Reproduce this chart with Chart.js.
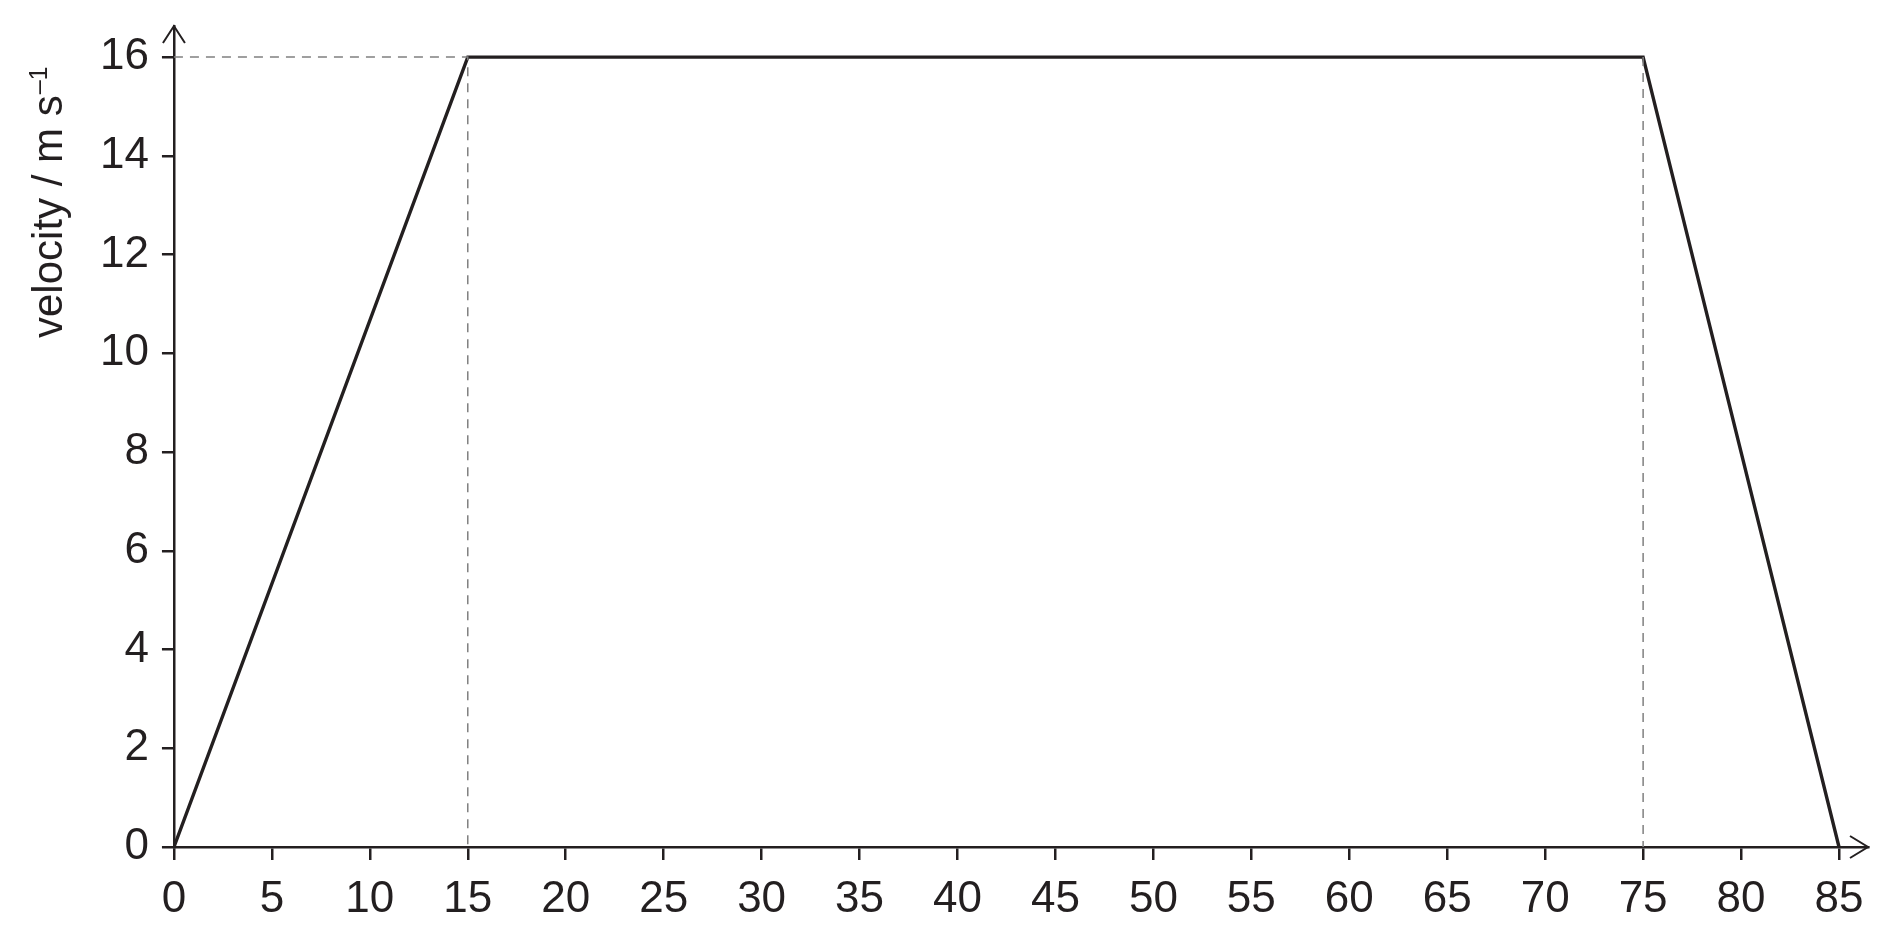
<!DOCTYPE html>
<html>
<head>
<meta charset="utf-8">
<script src="https://cdn.jsdelivr.net/npm/chart.js@4/dist/chart.umd.min.js"></script>
<style>
  html, body { margin: 0; padding: 0; background: #fff; }
  #wrap { width: 1894px; height: 936px; }
</style>
</head>
<body>
<div id="wrap"><canvas id="chart"></canvas></div>
<script>
// data
const timeS = [0, 15, 75, 85];
const velocity = [0, 16, 16, 0];
// dashed guide lines
const guideAX = [0, 15, 15];
const guideAY = [16, 16, 0];
const guideBX = [75, 75];
const guideBY = [16, 0];
// tick labels
const xTicks = [0, 5, 10, 15, 20, 25, 30, 35, 40, 45, 50, 55, 60, 65, 70, 75, 80, 85];
const yTicks = [0, 2, 4, 6, 8, 10, 12, 14, 16];

const ink = '#231f20';
const fontFamily = '"Liberation Sans", Arial, sans-serif';
const toPoints = (xs, ys) => xs.map((x, i) => ({ x: x, y: ys[i] }));

// arrow heads on the axes + rotated y title with superscript
const axesExtras = {
    id: 'axesExtras',
    afterDraw(chart) {
        const ctx = chart.ctx;
        const a = chart.chartArea;
        ctx.save();
        ctx.strokeStyle = ink;
        ctx.lineWidth = 2;
        ctx.beginPath();
        ctx.moveTo(a.left - 11, a.top + 17);
        ctx.lineTo(a.left, a.top);
        ctx.lineTo(a.left + 11, a.top + 17);
        ctx.moveTo(a.right - 18, a.bottom - 11);
        ctx.lineTo(a.right, a.bottom);
        ctx.lineTo(a.right - 18, a.bottom + 11);
        ctx.stroke();

        // y axis title
        const yScale = chart.scales.y;
        const cy = yScale.getPixelForValue(13.05);
        ctx.translate(62, cy);
        ctx.rotate(-Math.PI / 2);
        ctx.fillStyle = ink;
        ctx.textBaseline = 'alphabetic';
        ctx.textAlign = 'left';
        const main = 'velocity / m s';
        ctx.font = '42px ' + fontFamily;
        const w1 = ctx.measureText(main).width;
        ctx.font = '25px ' + fontFamily;
        const w2 = ctx.measureText('\u20131').width;
        const x0 = -(w1 + w2) / 2;
        ctx.font = '42px ' + fontFamily;
        ctx.fillText(main, x0, 0);
        ctx.font = '25px ' + fontFamily;
        ctx.fillText('\u20131', x0 + w1 + 1, -15);
        ctx.restore();
    }
};

const ctx = document.getElementById('chart').getContext('2d');

new Chart(ctx, {
    type: 'scatter',
    data: {
        datasets: [
            {
                data: toPoints(guideAX, guideAY),
                showLine: true,
                borderColor: '#808080',
                borderWidth: 1.5,
                borderDash: [9, 7],
                pointRadius: 0
            },
            {
                data: toPoints(guideBX, guideBY),
                showLine: true,
                borderColor: '#808080',
                borderWidth: 1.5,
                borderDash: [9, 7],
                pointRadius: 0
            },
            {
                data: toPoints(timeS, velocity),
                showLine: true,
                borderColor: ink,
                borderWidth: 3.4,
                pointRadius: 0,
                tension: 0
            }
        ]
    },
    options: {
        responsive: true,
        maintainAspectRatio: false,
        animation: false,
        layout: {
            padding: { left: 87, right: 26, top: 26, bottom: 0 }
        },
        plugins: {
            legend: { display: false },
            tooltip: { enabled: false },
            title: { display: false }
        },
        scales: {
            x: {
                type: 'linear',
                min: 0,
                max: 86.48,
                afterBuildTicks: (scale) => { scale.ticks = xTicks.map(v => ({ value: v })); },
                afterFit: (scale) => { scale.height = 89; },
                border: { display: true, color: ink, width: 2.5 },
                grid: {
                    drawOnChartArea: false,
                    drawTicks: true,
                    tickLength: 13,
                    color: ink,
                    lineWidth: 2.5
                },
                ticks: {
                    color: ink,
                    padding: 13,
                    maxRotation: 0,
                    autoSkip: false,
                    font: { family: fontFamily, size: 44 }
                }
            },
            y: {
                type: 'linear',
                min: 0,
                max: 16.63,
                afterBuildTicks: (scale) => { scale.ticks = yTicks.map(v => ({ value: v })); },
                afterFit: (scale) => { scale.paddingTop = 0; scale.paddingBottom = 0; },
                border: { display: true, color: ink, width: 2.5 },
                grid: {
                    drawOnChartArea: false,
                    drawTicks: true,
                    tickLength: 12,
                    color: ink,
                    lineWidth: 2.5
                },
                ticks: {
                    color: ink,
                    padding: 13,
                    autoSkip: false,
                    font: { family: fontFamily, size: 44 }
                }
            }
        }
    },
    plugins: [axesExtras]
});
</script>
</body>
</html>
